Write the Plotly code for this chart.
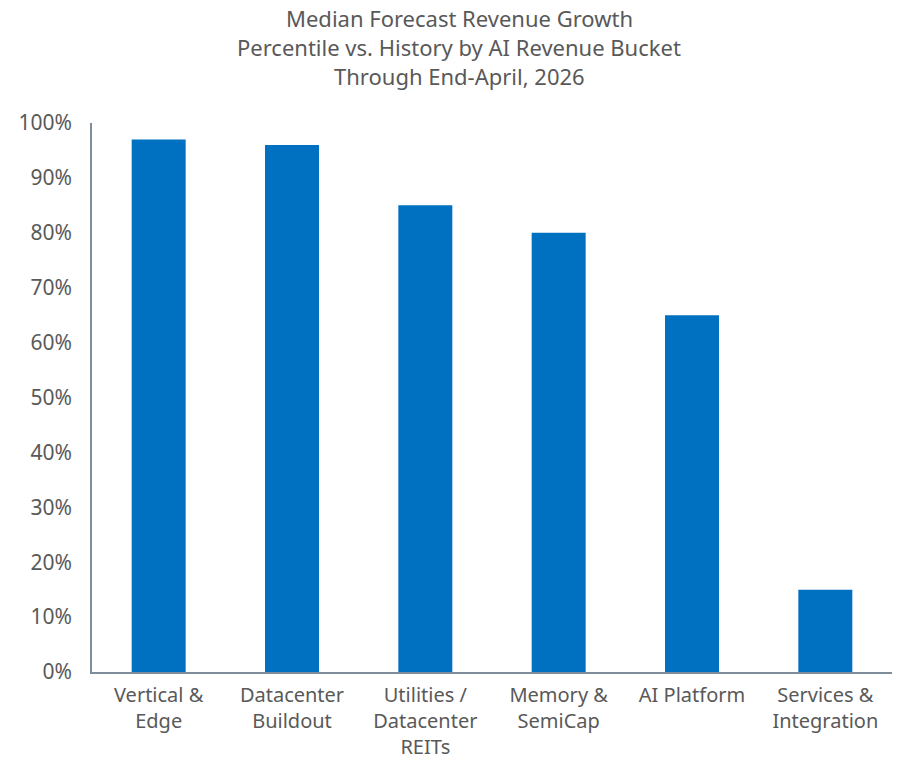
import plotly.graph_objects as go

# Revenue-growth percentile by AI revenue bucket
categories = [
    "Vertical &<br>Edge",
    "Datacenter<br>Buildout",
    "Utilities /<br>Datacenter<br>REITs",
    "Memory &<br>SemiCap",
    "AI Platform",
    "Services &<br>Integration",
]
percentiles = [0.97, 0.96, 0.85, 0.80, 0.65, 0.15]

title_lines = [
    "Median Forecast Revenue Growth",
    "Percentile vs. History by AI Revenue Bucket",
    "Through End-April, 2026",
]

y_ticks = [i / 10 for i in range(11)]
y_tick_labels = [f"{i * 10}%" for i in range(11)]

TEXT = "#595959"
FONT = "Noto Sans"

fig = go.Figure(
    go.Bar(
        x=categories,
        y=percentiles,
        marker=dict(color="#0070C0", line=dict(width=0)),
        hoverinfo="x+y",
    )
)

fig.update_layout(
    width=902,
    height=759,
    margin=dict(l=92, r=10, t=123, b=87),
    paper_bgcolor="white",
    plot_bgcolor="white",
    bargap=0.595,
    showlegend=False,
    font=dict(family=FONT, color=TEXT, size=20),
)

# Three-line title, one annotation per line for even spacing
for i, line in enumerate(title_lines):
    fig.add_annotation(
        text=line,
        xref="paper",
        yref="paper",
        x=0.459,
        y=1.0,
        yshift=123 - 18 - 29 * i,
        xanchor="center",
        yanchor="middle",
        showarrow=False,
        font=dict(family=FONT, size=22, color=TEXT),
    )

fig.update_xaxes(
    showline=True,
    linecolor="#7F8C9A",
    linewidth=1.5,
    showgrid=False,
    ticks="",
    automargin=False,
    ticklabelstandoff=4,
    tickfont=dict(size=20, color=TEXT),
)

fig.update_yaxes(
    range=[0, 1],
    tickvals=y_ticks,
    ticktext=y_tick_labels,
    showline=True,
    linecolor="#7F8C9A",
    linewidth=1.5,
    showgrid=False,
    zeroline=False,
    ticks="",
    automargin=False,
    ticklabelstandoff=14,
    tickfont=dict(size=21, color=TEXT),
)

fig.write_html("out.html")
